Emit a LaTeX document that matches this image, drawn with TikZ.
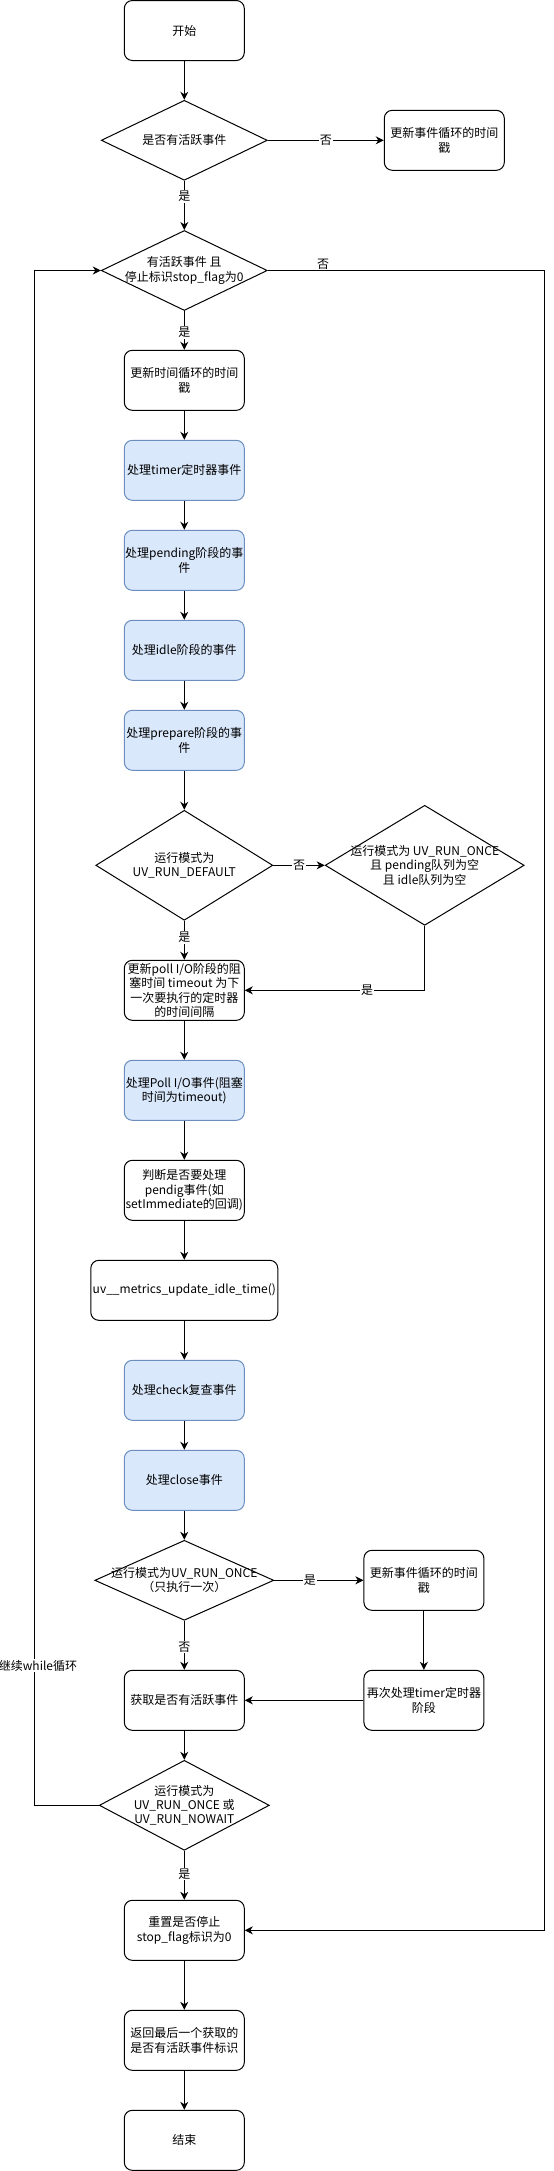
\documentclass[tikz,border=0pt]{standalone}
\usepackage{fontspec}
\setmainfont{Noto Sans CJK SC}
\usetikzlibrary{shapes.geometric,arrows.meta}
\definecolor{bluefill}{HTML}{DAE8FC}
\definecolor{bluedraw}{HTML}{6C8EBF}
\begin{document}
\begin{tikzpicture}[x=1pt,y=-1pt,
 every node/.style={font=\fontsize{12pt}{14.3pt}\selectfont, align=center},
 box/.style={draw=black, line width=1pt, rounded corners=8pt, minimum width=120pt, minimum height=60pt, inner sep=0pt, fill=white},
 bluebox/.style={box, draw=bluedraw, fill=bluefill},
 dia/.style={draw=black, line width=1pt, diamond, inner sep=0pt, fill=white},
 lbl/.style={fill=white, inner sep=1pt},
 arr/.style={line width=1pt, -{Stealth[length=8pt,width=8pt,inset=2.5pt]}},
 conn/.style={line width=1pt}
]
\useasboundingbox (0,0) rectangle (554,2171);
\coordinate (lc) at (34,0);
\coordinate (rc) at (544.5,0);

\node[box] (start) at (184.3,30.5) {开始};
\node[dia, minimum width=166pt, minimum height=80pt, label={center:{是否有活跃事件}}] (d1) at (184.3,140.3) {};
\node[box] (r1) at (444.3,140.3) {更新事件循环的时间\\戳};
\node[dia, minimum width=166pt, minimum height=80pt, label={center:{有活跃事件 且\\停止标识stop\_flag为0}}] (d2) at (184.3,270.5) {};
\node[box] (b1) at (184.3,380.3) {更新时间循环的时间\\戳};
\node[bluebox] (timer) at (184.3,470.3) {处理timer定时器事件};
\node[bluebox] (pending) at (184.3,560.3) {处理pending阶段的事\\件};
\node[bluebox] (idle) at (184.3,650.3) {处理idle阶段的事件};
\node[bluebox] (prepare) at (184.3,740.3) {处理prepare阶段的事\\件};
\node[dia, minimum width=177pt, minimum height=110pt, label={center:{运行模式为\\UV\_RUN\_DEFAULT}}] (d3) at (184.3,865.3) {};
\node[dia, minimum width=199pt, minimum height=120pt, label={center:{运行模式为 UV\_RUN\_ONCE\\且 pending队列为空\\且 idle队列为空}}] (d4) at (424.7,865.3) {};
\node[box] (poll) at (184.3,990.3) {更新poll I/O阶段的阻\\塞时间 timeout 为下\\一次要执行的定时器\\的时间间隔};
\node[bluebox] (pollio) at (184.3,1090.3) {处理Poll I/O事件(阻塞\\时间为timeout)};
\node[box] (judge) at (184.3,1190.3) {判断是否要处理\\pendig事件(如\\setImmediate的回调)};
\node[box, minimum width=187pt] (metrics) at (184.3,1290.3) {uv\_\_metrics\_update\_idle\_time()};
\node[bluebox] (check) at (184.3,1390.3) {处理check复查事件};
\node[bluebox] (close) at (184.3,1480.3) {处理close事件};
\node[dia, minimum width=179pt, minimum height=80pt, label={center:{运行模式为UV\_RUN\_ONCE\\（只执行一次）}}] (d5) at (184.3,1580.3) {};
\node[box] (r2) at (423.9,1580.3) {更新事件循环的时间\\戳};
\node[box] (fetch) at (184.3,1700.3) {获取是否有活跃事件};
\node[box] (r3) at (423.9,1700.3) {再次处理timer定时器\\阶段};
\node[dia, minimum width=170pt, minimum height=90pt, label={center:{运行模式为\\UV\_RUN\_ONCE 或\\UV\_RUN\_NOWAIT}}] (d6) at (184.3,1805.3) {};
\node[box] (reset) at (184.3,1930.3) {重置是否停止\\stop\_flag标识为0};
\node[box] (ret) at (184.3,2040.3) {返回最后一个获取的\\是否有活跃事件标识};
\node[box] (end) at (184.3,2140.3) {结束};

\draw[arr] (start) -- (d1);
\draw[arr] (d1.east) -- node[lbl, pos=0.5] {否} (r1.west);
\draw[arr] (d1.south) -- node[lbl, pos=0.32] {是} (d2.north);
\draw[arr] (d2.south) -- node[lbl, pos=0.55] {是} (b1.north);
\draw[arr] (d2.east) -- node[pos=0.2, above, inner sep=0.5pt] {否} (d2.east -| rc) -- (reset.east -| rc) -- (reset.east);
\draw[arr] (b1) -- (timer);
\draw[arr] (timer) -- (pending);
\draw[arr] (pending) -- (idle);
\draw[arr] (idle) -- (prepare);
\draw[arr] (prepare) -- (d3.north);
\draw[arr] (d3.east) -- node[lbl, pos=0.5] {否} (d4.west);
\draw[arr] (d3.south) -- node[lbl, pos=0.43] {是} (poll.north);
\draw[arr] (d4.south) -- (d4.south |- poll.east) -- node[lbl, pos=0.32] {是} (poll.east);
\draw[arr] (poll) -- (pollio);
\draw[arr] (pollio) -- (judge);
\draw[arr] (judge) -- (metrics);
\draw[arr] (metrics) -- (check);
\draw[arr] (check) -- (close);
\draw[arr] (close) -- (d5.north);
\draw[arr] (d5.east) -- node[lbl, pos=0.4] {是} (r2.west);
\draw[arr] (d5.south) -- node[lbl, pos=0.54] {否} (fetch.north);
\draw[arr] (r2) -- (r3);
\draw[arr] (r3) -- (fetch);
\draw[arr] (fetch) -- (d6.north);
\draw[arr] (d6.west) -- (d6.west -| lc) -- node[lbl, pos=0.091, xshift=4pt] {继续while循环} (d2.west -| lc) -- (d2.west);
\draw[arr] (d6.south) -- node[lbl, pos=0.47] {是} (reset.north);
\draw[arr] (reset) -- (ret);
\draw[arr] (ret) -- (end);
\end{tikzpicture}
\end{document}
